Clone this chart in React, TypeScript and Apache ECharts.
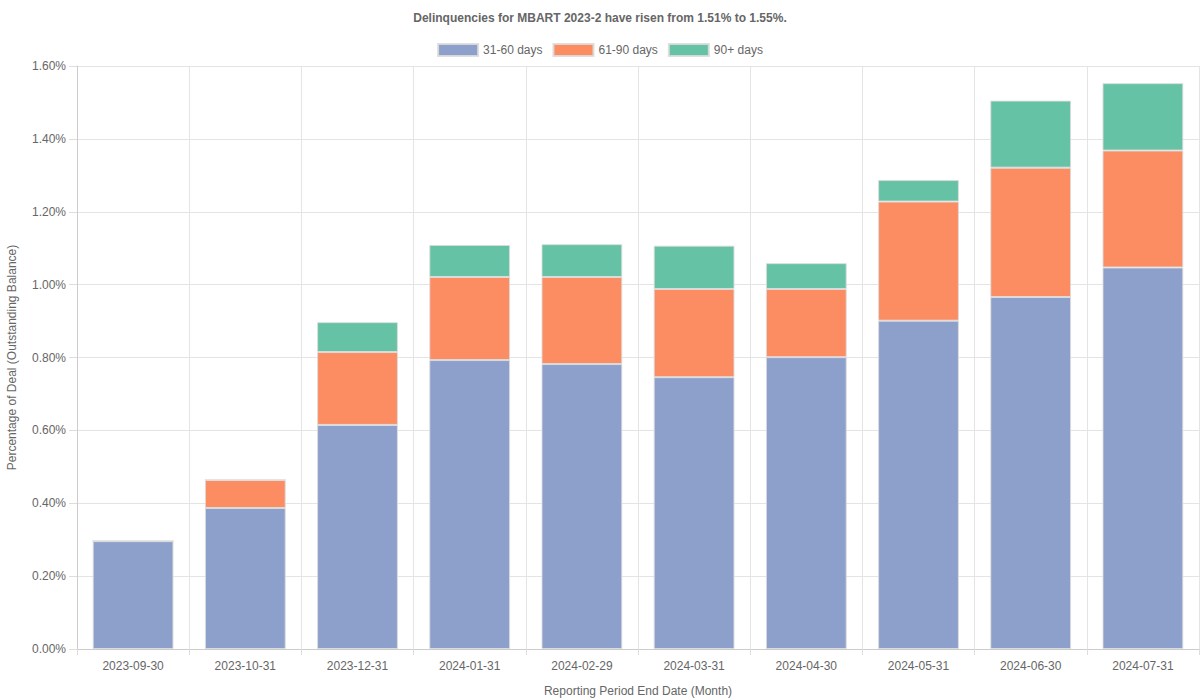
import React, { useEffect, useRef } from "react";
import * as echarts from "echarts";

const categories = [
  "2023-09-30",
  "2023-10-31",
  "2023-12-31",
  "2024-01-31",
  "2024-02-29",
  "2024-03-31",
  "2024-04-30",
  "2024-05-31",
  "2024-06-30",
  "2024-07-31",
];

const days31to60 = [0.296, 0.387, 0.615, 0.793, 0.782, 0.746, 0.801, 0.901, 0.966, 1.047];
const days61to90 = [0, 0.077, 0.2, 0.228, 0.239, 0.242, 0.187, 0.327, 0.355, 0.321];
const days90plus = [0, 0, 0.082, 0.088, 0.09, 0.119, 0.071, 0.059, 0.184, 0.185];

const seriesNames = ["31-60 days", "61-90 days", "90+ days"];
const seriesColors = ["#8da0cb", "#fc8d62", "#66c2a5"];

const FONT = "'Liberation Sans', Arial, sans-serif";

export default function App() {
  const ref = useRef<HTMLDivElement>(null);

  useEffect(() => {
    if (!ref.current) return;
    const chart = echarts.init(ref.current, undefined, { renderer: "svg" });
    const data = [days31to60, days61to90, days90plus];
    chart.setOption({
      animation: false,
      textStyle: { fontFamily: FONT },
      title: {
        text: "Delinquencies for MBART 2023-2 have risen from 1.51% to 1.55%.",
        left: "center",
        top: 7,
        textStyle: { fontSize: 12, fontWeight: "bold", color: "#666", fontFamily: FONT },
      },
      legend: {
        top: 38,
        left: "center",
        itemWidth: 40,
        itemHeight: 12,
        itemGap: 10,
        icon: "rect",
        textStyle: { fontSize: 12, color: "#666", fontFamily: FONT },
        data: seriesNames,
      },
      grid: { left: 77, right: 1, top: 66, bottom: 51, containLabel: false, outerBoundsMode: "none" },
      xAxis: {
        type: "category",
        data: categories,
        name: "Reporting Period End Date (Month)",
        nameLocation: "middle",
        nameGap: 36,
        nameTextStyle: { fontSize: 12, color: "#666", fontFamily: FONT },
        axisLine: { lineStyle: { color: "#ccc" } },
        axisTick: { show: true, length: 6, lineStyle: { color: "#ddd" } },
        axisLabel: { fontSize: 12, color: "#666", margin: 11, fontFamily: FONT },
        splitLine: { show: true, lineStyle: { color: "#e4e4e4" } },
      },
      yAxis: {
        type: "value",
        min: 0,
        max: 1.6,
        interval: 0.2,
        name: "Percentage of Deal (Outstanding Balance)",
        nameLocation: "middle",
        nameGap: 59,
        nameTextStyle: { fontSize: 12, color: "#666", fontFamily: FONT },
        axisLine: { show: true, lineStyle: { color: "#ccc" } },
        axisTick: { show: true, length: 8, lineStyle: { color: "#ddd" } },
        axisLabel: {
          fontSize: 12,
          color: "#666",
          margin: 11,
          fontFamily: FONT,
          formatter: (v: number) => v.toFixed(2) + "%",
        },
        splitLine: { show: true, lineStyle: { color: "#e4e4e4" } },
      },
      series: seriesNames.map((name, i) => ({
        name,
        type: "bar",
        stack: "total",
        barCategoryGap: "28%",
        data: data[i],
        itemStyle: {
          color: seriesColors[i],
          borderColor: "rgba(220,220,220,0.9)",
          borderWidth: 1,
        },
      })),
    });
    return () => chart.dispose();
  }, []);

  return (
    <div
      ref={ref}
      style={{ position: "fixed", left: 0, top: 0, width: 1200, height: 700, background: "#fff" }}
    />
  );
}
